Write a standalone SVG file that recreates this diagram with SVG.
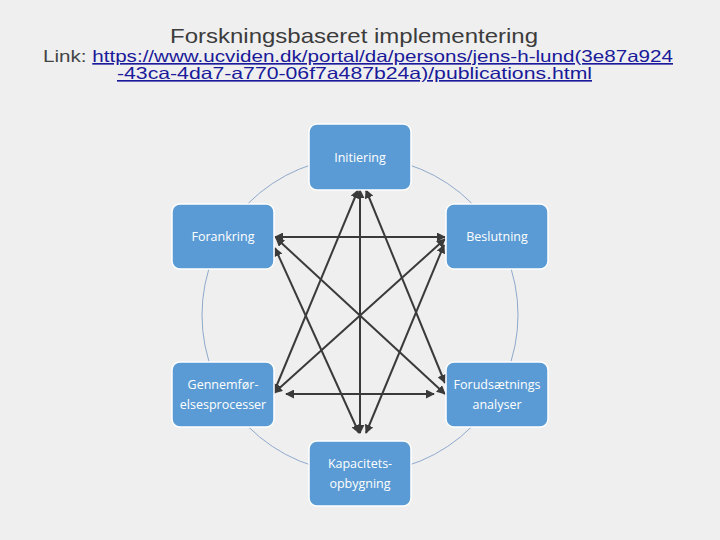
<svg xmlns="http://www.w3.org/2000/svg" width="720" height="540" viewBox="0 0 720 540">
<defs>
<style>
.bg{fill:#efefef}
.ring{fill:none;stroke:#8fa9cb;stroke-width:1}
.box{fill:#5b9bd5;stroke:#ffffff;stroke-width:1.5}
.lbl{fill:#ffffff;font-family:"Open Sans","Liberation Sans",sans-serif;font-size:12.5px;text-anchor:middle}
.edge{stroke:#3a3a3a;stroke-width:2;fill:none;marker-start:url(#a);marker-end:url(#a)}
.title{fill:#3c3c3c;font-family:"Liberation Sans",Arial,sans-serif;font-size:21px;text-anchor:middle}
.link{font-family:"Liberation Sans",Arial,sans-serif;font-size:16.5px}
.url{fill:#1a1a9a;text-decoration:underline}
</style>
<marker id="a" viewBox="0 0 10 10" refX="9" refY="5" markerWidth="4.5" markerHeight="4.5" orient="auto-start-reverse" markerUnits="strokeWidth">
<path d="M0,0 L10,5 L0,10 z" fill="#3a3a3a"/>
</marker>
</defs>
<rect class="bg" x="0" y="0" width="720" height="540"/>
<text class="title" x="354" y="43" textLength="368" lengthAdjust="spacingAndGlyphs">Forskningsbaseret implementering</text>
<text class="link" x="43" y="62" fill="#444444" textLength="630" lengthAdjust="spacingAndGlyphs">Link: <tspan class="url">https://www.ucviden.dk/portal/da/persons/jens-h-lund(3e87a924</tspan></text>
<text class="link url" x="117" y="79" textLength="475" lengthAdjust="spacingAndGlyphs">-43ca-4da7-a770-06f7a487b24a)/publications.html</text>
<circle class="ring" cx="360" cy="315" r="158"/>
<g id="connectors">
<line class="edge" x1="275" y1="237" x2="445" y2="237"/>
<line class="edge" x1="360" y1="190" x2="360" y2="433"/>
<line class="edge" x1="286" y1="394" x2="434" y2="394"/>
<line class="edge" x1="358" y1="190" x2="274" y2="392"/>
<line class="edge" x1="366" y1="190" x2="445" y2="383"/>
<line class="edge" x1="276" y1="238" x2="445" y2="394"/>
<line class="edge" x1="275" y1="248" x2="359" y2="433"/>
<line class="edge" x1="445" y1="239" x2="274" y2="393"/>
<line class="edge" x1="444" y1="245" x2="366" y2="433"/>
</g>
<g id="initiering"><rect class="box" x="309" y="124" width="102" height="66" rx="8"/><text class="lbl" x="360" y="162">Initiering</text></g>
<g id="forankring"><rect class="box" x="172" y="204" width="102" height="65" rx="8"/><text class="lbl" x="223" y="241">Forankring</text></g>
<g id="beslutning"><rect class="box" x="446" y="204" width="102" height="65" rx="8"/><text class="lbl" x="497" y="241">Beslutning</text></g>
<g id="gennemfoer"><rect class="box" x="172" y="362" width="102" height="65" rx="8"/><text class="lbl" x="223" y="389">Gennemfør-</text><text class="lbl" x="223" y="409">elsesprocesser</text></g>
<g id="forudsaetnings"><rect class="box" x="446" y="362" width="102" height="65" rx="8"/><text class="lbl" x="497" y="389">Forudsætnings</text><text class="lbl" x="497" y="409">analyser</text></g>
<g id="kapacitets"><rect class="box" x="309" y="441" width="102" height="65" rx="8"/><text class="lbl" x="360" y="468">Kapacitets-</text><text class="lbl" x="360" y="488">opbygning</text></g>
</svg>
